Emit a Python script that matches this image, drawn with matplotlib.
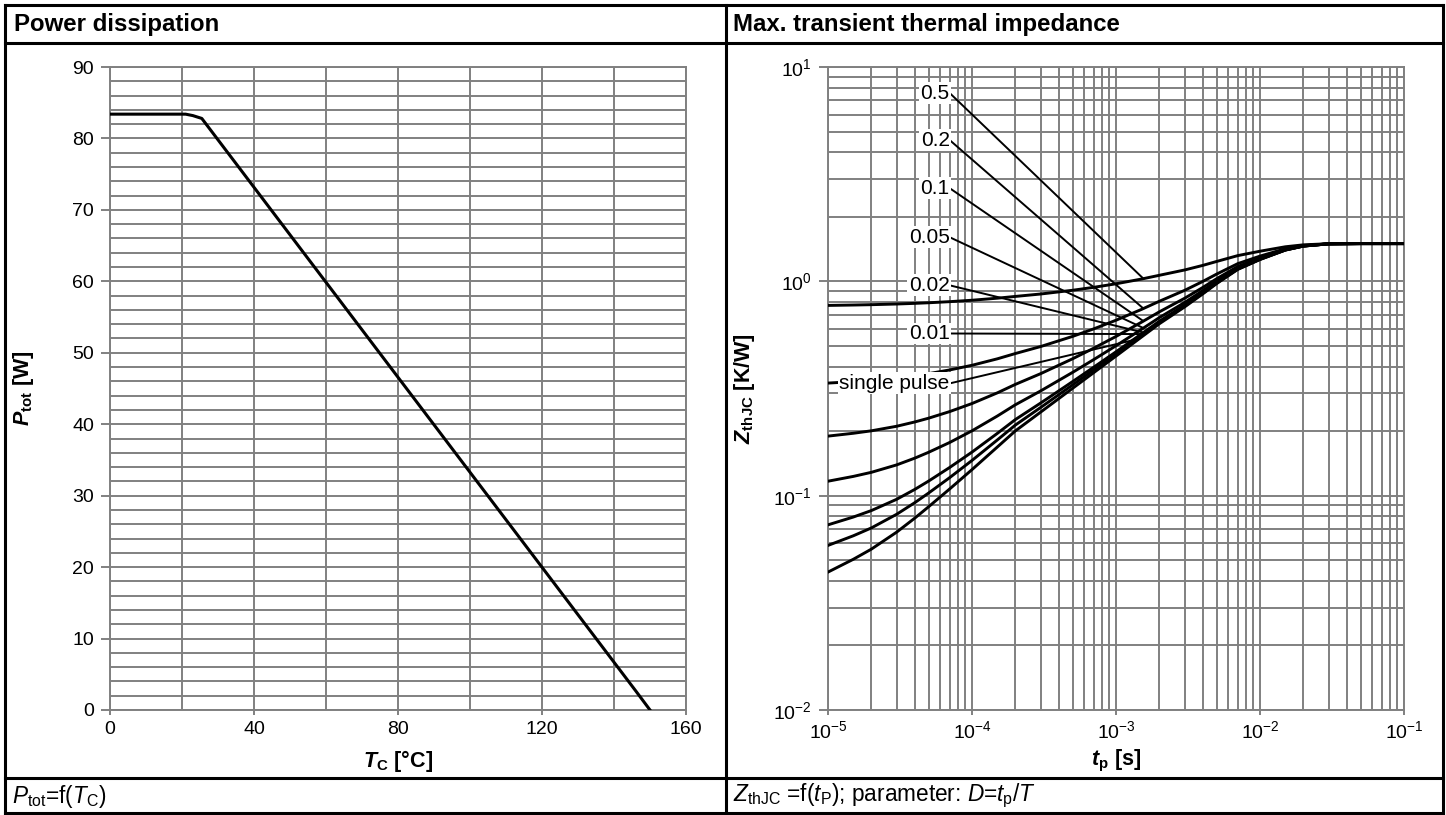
import numpy as np
import matplotlib
matplotlib.use('Agg')
import matplotlib.pyplot as plt
from matplotlib.lines import Line2D
from matplotlib.ticker import MultipleLocator, LogLocator, NullFormatter

plt.rcParams['font.family'] = ['Liberation Sans', 'DejaVu Sans']
plt.rcParams['mathtext.fontset'] = 'custom'
plt.rcParams['mathtext.rm'] = 'Liberation Sans'
plt.rcParams['mathtext.it'] = 'Liberation Sans:italic'
plt.rcParams['mathtext.bf'] = 'Liberation Sans:bold:italic'
plt.rcParams['mathtext.sf'] = 'Liberation Sans:bold'
plt.rcParams['axes.unicode_minus'] = False

# power dissipation curve
tc = [0, 21, 23, 25.5, 146, 150]
ptot = [83.4, 83.4, 83.2, 82.8, 2.7, 0]

# transient thermal impedance
tp = [1e-5, 1.5e-5, 2e-5, 3e-5, 4e-5, 5e-5, 7e-5, 1e-4, 1.5e-4, 2e-4, 3e-4, 5e-4, 7e-4,
      1e-3, 1.5e-3, 2e-3, 3e-3, 4e-3, 5e-3, 7e-3, 1e-2, 1.5e-2, 2e-2, 3e-2, 5e-2, 1e-1]
z_single = [0.0440, 0.0505, 0.0563, 0.0676, 0.0785, 0.0888, 0.1075, 0.1323, 0.1687, 0.2005,
            0.2455, 0.317, 0.375, 0.448, 0.549, 0.634, 0.760, 0.873, 0.976, 1.136, 1.264,
            1.399, 1.460, 1.496, 1.500, 1.500]
z_d001 = [0.0586, 0.0650, 0.0707, 0.0819, 0.0927, 0.1029, 0.1214, 0.1460, 0.1820, 0.2135,
          0.2580, 0.3288, 0.3863, 0.4585, 0.5585, 0.6427, 0.7674, 0.8793, 0.9812, 1.1396,
          1.2664, 1.4000, 1.4604, 1.4960, 1.500, 1.500]
z_d002 = [0.0731, 0.0795, 0.0852, 0.0962, 0.1069, 0.1170, 0.1354, 0.1597, 0.1953, 0.2265,
          0.2706, 0.3407, 0.3975, 0.4690, 0.5680, 0.6513, 0.7748, 0.8855, 0.9865, 1.1433,
          1.2687, 1.4010, 1.4608, 1.4961, 1.500, 1.500]
z_d005 = [0.1168, 0.1230, 0.1285, 0.1392, 0.1496, 0.1594, 0.1771, 0.2007, 0.2353, 0.2655,
          0.3082, 0.3762, 0.4313, 0.5006, 0.5966, 0.6773, 0.7970, 0.9044, 1.0022, 1.1542,
          1.2758, 1.4041, 1.4620, 1.4962, 1.500, 1.500]
z_d01 = [0.1896, 0.1955, 0.2007, 0.2108, 0.2207, 0.2299, 0.2468, 0.2691, 0.3018, 0.3305,
         0.3710, 0.4353, 0.4875, 0.5532, 0.6441, 0.7206, 0.8340, 0.9357, 1.0284, 1.1724,
         1.2876, 1.4091, 1.4640, 1.4964, 1.500, 1.500]
z_d02 = [0.3352, 0.3404, 0.3450, 0.3541, 0.3628, 0.3710, 0.3860, 0.4058, 0.4350, 0.4604,
         0.4964, 0.5536, 0.6000, 0.6584, 0.7392, 0.8072, 0.9080, 0.9984, 1.0808, 1.2088,
         1.3112, 1.4192, 1.4680, 1.4968, 1.500, 1.500]
z_d05 = [0.7720, 0.7753, 0.7782, 0.7838, 0.7893, 0.7944, 0.8038, 0.8162, 0.8344, 0.8503,
         0.8728, 0.9085, 0.9375, 0.9740, 1.0245, 1.0670, 1.1300, 1.1865, 1.2380, 1.3180,
         1.3820, 1.4495, 1.4800, 1.4980, 1.500, 1.500]

curve_labels = ['0.5', '0.2', '0.1', '0.05', '0.02', '0.01', 'single pulse']
curves = [z_d05, z_d02, z_d01, z_d005, z_d002, z_d001, z_single]
label_y = [7.56, 4.56, 2.72, 1.606, 0.958, 0.571, 0.334]

GRID = '#808080'

fig = plt.figure(figsize=(14.46, 8.15), dpi=100)


def px(x, y):
    return x / 1446, 1 - y / 815


def frame_line(a, b, lw=2.2):
    (x0, y0), (x1, y1) = px(*a), px(*b)
    fig.add_artist(Line2D([x0, x1], [y0, y1], transform=fig.transFigure,
                          color='black', lw=lw, solid_capstyle='projecting'))


# table frame
for a, b in [((5, 5), (1443, 5)), ((5, 43), (1443, 43)), ((5, 778), (1443, 778)),
             ((5, 813), (1443, 813)), ((5, 5), (5, 813)), ((1443, 5), (1443, 813)),
             ((726, 5), (726, 813))]:
    frame_line(a, b)

fig.text(*px(14, 24), 'Power dissipation', fontsize=17.3, fontweight='bold', va='center')
fig.text(*px(733, 24), 'Max. transient thermal impedance', fontsize=17.3, fontweight='bold', va='center')
fig.text(*px(12, 796), r'$P_{\mathrm{tot}}$=f($T_{\mathrm{C}}$)', fontsize=16.3, va='center')
fig.text(*px(733, 796), r'$Z_{\mathrm{thJC}}$ =f($t_{\mathrm{P}}$); parameter: $D$=$t_{\mathrm{p}}$/$T$',
         fontsize=16.3, va='center')


def style_axes(ax):
    for sp in ax.spines.values():
        sp.set_color(GRID)
        sp.set_linewidth(1.4)
    ax.grid(True, which='both', color=GRID, lw=1.4)
    ax.set_axisbelow(True)
    ax.tick_params(which='major', color=GRID, width=1.4, labelsize=14, labelcolor='black')
    ax.tick_params(axis='y', which='major', length=6.5, pad=5)
    ax.tick_params(axis='x', which='major', length=3.6, pad=4)
    ax.tick_params(which='minor', length=0)


# left: power dissipation
ax1 = fig.add_axes([110 / 1446, 1 - 710 / 815, 576 / 1446, 643 / 815])
ax1.plot(tc, ptot, color='black', lw=2.2, zorder=3)
ax1.set_xlim(0, 160)
ax1.set_ylim(0, 90)
ax1.xaxis.set_major_locator(MultipleLocator(40))
ax1.xaxis.set_minor_locator(MultipleLocator(20))
ax1.yaxis.set_major_locator(MultipleLocator(10))
ax1.yaxis.set_minor_locator(MultipleLocator(2))
style_axes(ax1)
ax1.set_xlabel(r'$\mathbf{T}_{\mathsf{C}}$ [°C]', fontsize=15.5, fontweight='bold')
ax1.set_ylabel(r'$\mathbf{P}_{\mathsf{tot}}$ [W]', fontsize=15.5, fontweight='bold')
ax1.xaxis.set_label_coords(0.5, -0.059)
ax1.yaxis.set_label_coords(-0.128, 0.5)

# right: thermal impedance
ax2 = fig.add_axes([828 / 1446, 1 - 710 / 815, 576 / 1446, 643 / 815])
for z in curves:
    ax2.plot(tp, z, color='black', lw=2.1, zorder=3)
ax2.set_xscale('log')
ax2.set_yscale('log')
ax2.set_xlim(1e-5, 1e-1)
ax2.set_ylim(1e-2, 1e1)
ax2.xaxis.set_minor_locator(LogLocator(base=10, subs=np.arange(2, 10)))
ax2.yaxis.set_minor_locator(LogLocator(base=10, subs=np.arange(2, 10)))
ax2.xaxis.set_minor_formatter(NullFormatter())
ax2.yaxis.set_minor_formatter(NullFormatter())
style_axes(ax2)
ax2.set_xlabel(r'$\mathbf{t}_{\mathsf{p}}$ [s]', fontsize=15.5, fontweight='bold')
ax2.set_ylabel(r'$\mathbf{Z}_{\mathsf{thJC}}$ [K/W]', fontsize=15.5, fontweight='bold')
ax2.xaxis.set_label_coords(0.5, -0.059)
ax2.yaxis.set_label_coords(-0.123, 0.5)

# curve labels with leader lines
log_tp = np.log10(tp)
for lab, z, ly in zip(curve_labels, curves, label_y):
    t_end = 1.45e-3 if lab == 'single pulse' else 1.55e-3
    z_end = 10 ** np.interp(np.log10(t_end), log_tp, np.log10(z))
    ax2.annotate(lab, xy=(t_end, z_end), xytext=(7.0e-5, ly), fontsize=15,
                 ha='right', va='center', zorder=4,
                 bbox=dict(fc='white', ec='none', pad=1.0),
                 arrowprops=dict(arrowstyle='-', color='black', lw=1.4,
                                 relpos=(1.0, 0.5), patchA=None,
                                 shrinkA=0, shrinkB=0))

fig.savefig('out.png', dpi=100)
